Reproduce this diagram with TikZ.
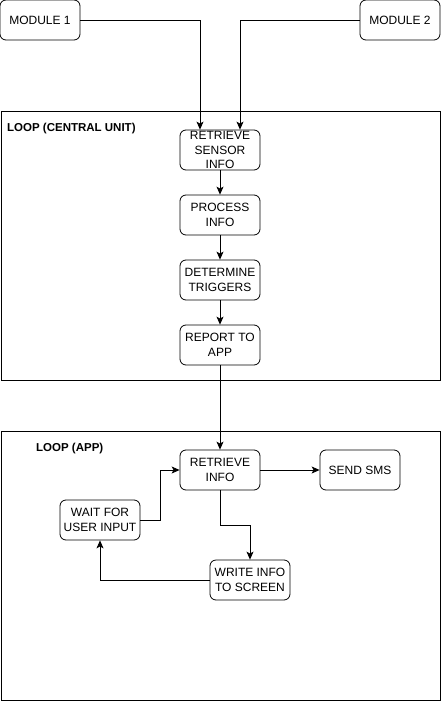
\documentclass[tikz,border=0pt]{standalone}
\usepackage{fontspec}
\setmainfont{Liberation Sans}
\usetikzlibrary{arrows.meta}
\begin{document}
\begin{tikzpicture}[x=1pt,y=-1pt,
  box/.style={draw,rounded corners=6pt,minimum width=80pt,minimum height=40pt,inner sep=0pt,align=center,font=\fontsize{12}{14.5}\selectfont,line width=0.8pt},
  loopbox/.style={draw,line width=0.9pt,minimum width=439pt,minimum height=269pt,inner sep=0pt,anchor=north west},
  looptitle/.style={anchor=west,inner sep=0pt,font=\fontsize{11.5}{13}\selectfont\bfseries},
  conn/.style={line width=0.8pt,-{Stealth[length=8pt,width=7pt,inset=2pt]}}]
\useasboundingbox (0,0) rectangle (441,701);
\fill[white] (0,0) rectangle (441,701);
% loop frames
\node[loopbox] (central) at (0.8,110.5) {};
\node[loopbox] (app) at (0.8,430.5) {};
\node[looptitle] (ct) at (7,129) {LOOP (CENTRAL UNIT)};
\node[looptitle] (at) at (36,449) {LOOP (APP)};
% modules
\node[box] (m1) at (40,20) {MODULE 1};
\node[box] (m2) at (400,20) {MODULE 2};
% central unit
\node[box,label={[align=center,font=\fontsize{12}{14.5}\selectfont]center:RETRIEVE\\SENSOR\\INFO}] (rs) at (220,150) {};
\node[box] (pi) at (220,215) {PROCESS\\INFO};
\node[box] (dt) at (220,280) {DETERMINE\\TRIGGERS};
\node[box] (ra) at (220,345) {REPORT TO\\APP};
% app
\node[box] (ri) at (220,470) {RETRIEVE\\INFO};
\node[box] (sms) at (360,470) {SEND SMS};
\node[box] (wait) at (100,520) {WAIT FOR\\USER INPUT};
\node[box] (wr) at (250,580) {WRITE INFO\\TO SCREEN};
% connectors
\draw[conn] (m1.east) -| ([xshift=-20pt]rs.north);
\draw[conn] (m2.west) -| ([xshift=20pt]rs.north);
\draw[conn] (rs) -- (pi);
\draw[conn] (pi) -- (dt);
\draw[conn] (dt) -- (ra);
\draw[conn] (ra) -- (ri);
\draw[conn] (ri) -- (sms);
\draw[conn] (ri.south) -- ++(0,35) -| (wr.north);
\draw[conn] (wr.west) -| (wait.south);
\draw[conn] (wait.east) -- ++(20,0) |- (ri.west);
\end{tikzpicture}
\end{document}
